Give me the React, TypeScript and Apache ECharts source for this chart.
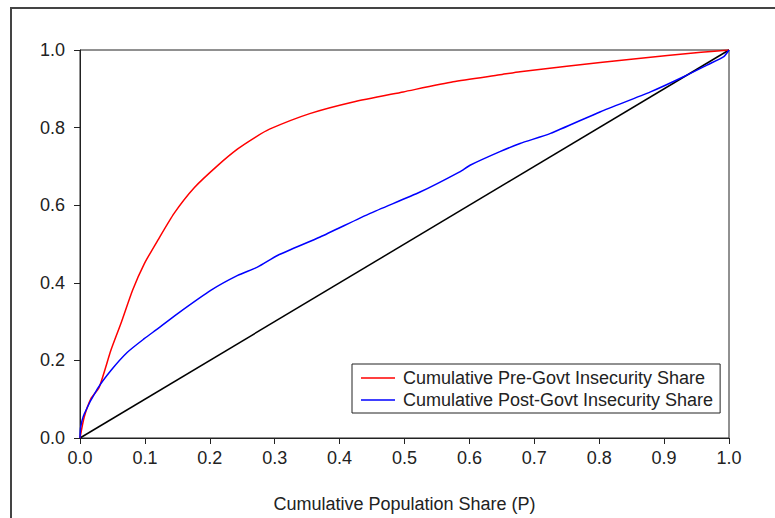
import React, { useEffect, useRef } from "react";
import * as echarts from "echarts";

const preGovt: [number, number][] = [
  [0, 0], [0.0065, 0.054], [0.0167, 0.101], [0.0296, 0.131], [0.0476, 0.226],
  [0.063, 0.295], [0.081, 0.381], [0.099, 0.449], [0.12, 0.51], [0.145, 0.579],
  [0.176, 0.645], [0.212, 0.702], [0.243, 0.745], [0.27, 0.775], [0.292, 0.796],
  [0.354, 0.836], [0.421, 0.866], [0.498, 0.892], [0.575, 0.918], [0.647, 0.936],
  [0.678, 0.944], [0.75, 0.958], [0.853, 0.977], [0.957, 0.994], [1, 1],
];

const postGovt: [number, number][] = [
  [0, 0], [0.001, 0.028], [0.0065, 0.062], [0.027, 0.127], [0.0476, 0.174],
  [0.073, 0.221], [0.099, 0.256], [0.12, 0.282], [0.15, 0.32], [0.202, 0.381],
  [0.243, 0.419], [0.274, 0.441], [0.305, 0.471], [0.37, 0.518], [0.447, 0.579],
  [0.524, 0.634], [0.585, 0.686], [0.601, 0.703], [0.647, 0.738], [0.678, 0.759],
  [0.725, 0.785], [0.802, 0.841], [0.879, 0.892], [0.93, 0.931], [0.966, 0.961],
  [0.992, 0.983], [1, 1],
];

const equality: [number, number][] = [[0, 0], [1, 1]];

const seriesNames = [
  "Cumulative Pre-Govt Insecurity Share",
  "Cumulative Post-Govt Insecurity Share",
];
const xTitle = "Cumulative Population Share (P)";

const FONT = "'Liberation Sans', Arial, Helvetica, sans-serif";

export default function App() {
  const ref = useRef<HTMLDivElement>(null);
  useEffect(() => {
    if (!ref.current) return;
    const chart = echarts.init(ref.current, undefined, { renderer: "svg" });
    const axisCommon = {
      type: "value" as const,
      min: 0,
      max: 1,
      interval: 0.1,
      axisLine: { show: true, lineStyle: { color: "#222", width: 1 } },
      axisTick: { show: true, inside: false, length: 6, lineStyle: { color: "#222" } },
      splitLine: { show: false },
      axisLabel: {
        color: "#222",
        fontSize: 18,
        fontFamily: FONT,
        formatter: (v: number) => v.toFixed(1),
      },
    };
    chart.setOption({
      animation: false,
      backgroundColor: "#fff",
      graphic: [
        {
          type: "rect",
          shape: { x: 11, y: 8, width: 900, height: 700 },
          style: { fill: "none", stroke: "#444", lineWidth: 2 },
          silent: true,
          z: -1,
        },
      ],
      grid: {
        left: 80,
        right: 46,
        top: 50,
        bottom: 80,
        show: true,
        borderColor: "#222",
        borderWidth: 1,
        backgroundColor: "transparent",
      },
      xAxis: {
        ...axisCommon,
        name: xTitle,
        nameLocation: "middle",
        nameGap: 57,
        nameTextStyle: { color: "#222", fontSize: 18, fontFamily: FONT },
        axisLabel: { ...axisCommon.axisLabel, margin: 11 },
      },
      yAxis: {
        ...axisCommon,
        interval: 0.2,
        axisLabel: { ...axisCommon.axisLabel, margin: 15 },
      },
      legend: {
        show: true,
        data: seriesNames.map((n, i) => ({
          name: n,
          icon: "rect",
          itemStyle: { color: i === 0 ? "#ff0000" : "#0000ff", borderWidth: 0 },
        })),
        orient: "vertical",
        left: 352,
        top: 364,
        padding: [5, 7, 4, 9],
        itemWidth: 34,
        itemHeight: 1.5,
        itemGap: 4,
        borderColor: "#222",
        borderWidth: 1,
        backgroundColor: "#fff",
        textStyle: {
          color: "#222",
          fontSize: 18,
          fontFamily: FONT,
          lineHeight: 18,
          padding: [0, 0, 0, 3],
        },
      },
      series: [
        {
          name: seriesNames[0],
          type: "line",
          data: preGovt,
          symbol: "none",
          smooth: 0.2,
          lineStyle: { color: "#ff0000", width: 1.5 },
          itemStyle: { color: "#ff0000" },
          z: 3,
        },
        {
          name: seriesNames[1],
          type: "line",
          data: postGovt,
          symbol: "none",
          smooth: 0.2,
          lineStyle: { color: "#0000ff", width: 1.5 },
          itemStyle: { color: "#0000ff" },
          z: 3,
        },
        {
          name: "Equality",
          type: "line",
          data: equality,
          symbol: "none",
          lineStyle: { color: "#000", width: 1.5 },
          itemStyle: { color: "#000" },
          z: 2,
        },
      ],
    });
    return () => chart.dispose();
  }, []);
  return (
    <div
      ref={ref}
      style={{ position: "fixed", left: 0, top: 0, width: 775, height: 518, background: "#fff" }}
    />
  );
}
